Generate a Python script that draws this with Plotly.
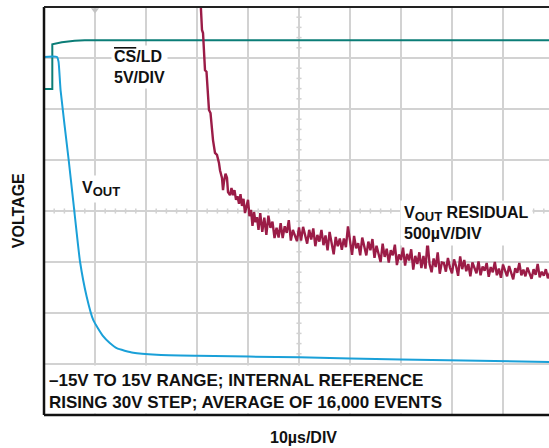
import plotly.graph_objects as go

# Scope graticule: 10 µs per horizontal division, 8 vertical divisions
T_PER_DIV = 10
N_XDIV = 10
N_YDIV = 8
T_VISIBLE = 99.02

# CS/LD logic trace (time in µs, level in divisions)
cs_t = [0, 1.63, 1.63, 3.5, 6.0, 8.0, 99.2]
cs_v = [6.39, 6.39, 7.27, 7.31, 7.34, 7.35, 7.35]

# VOUT output step (time in µs, level in divisions)
vout_t = [0, 2.55, 2.85, 3.25, 4.84, 5.75, 6.41, 7.06, 8.37, 9.67,
          11.63, 12.9, 14.25, 17.51, 22.1, 30.0, 50.0, 70.0, 99.2]
vout_v = [7.02, 7.02, 6.93, 6.37, 5.00, 4.18, 3.57, 3.01, 2.32, 1.86,
          1.54, 1.41, 1.31, 1.22, 1.18, 1.16, 1.13, 1.09, 1.04]

# VOUT residual: fast settling edge, then the sampled noisy tail
res_t_head = [30.59, 30.73, 30.98, 31.18, 31.37, 31.57, 31.86, 32.16, 32.35, 32.65,
              32.94, 33.14, 33.53, 33.92, 34.31, 34.51, 34.90, 35.10, 35.29, 35.59,
              35.88, 36.08, 36.47, 36.76, 37.06, 37.35, 37.65, 37.94, 38.24, 38.53,
              38.82, 39.12, 39.41, 39.71, 40.00, 40.29, 40.59, 40.88, 41.18, 41.47,
              41.76, 42.06]
res_v_head = [8.33, 8.00, 7.55, 7.49, 7.16, 6.76, 6.73, 6.27, 5.98, 5.92,
              5.53, 5.39, 5.14, 5.10, 4.94, 4.80, 4.65, 4.41, 4.57, 4.73,
              4.65, 4.37, 4.31, 4.45, 4.31, 4.41, 4.22, 4.29, 4.14, 4.33,
              4.10, 4.24, 3.96, 4.12, 4.22, 3.90, 4.02, 3.71, 3.98, 3.78,
              3.88, 3.63]
RES_T0 = 42.4
RES_DT = 0.4
res_v_tail = [
    3.96, 3.59, 3.87, 3.53, 3.91, 3.67, 3.79, 3.47, 3.67, 3.48,
    3.76, 3.47, 3.70, 3.57, 3.82, 3.42, 3.63, 3.52, 3.41, 3.68,
    3.42, 3.69, 3.50, 3.36, 3.63, 3.44, 3.66, 3.31, 3.53, 3.40,
    3.63, 3.33, 3.52, 3.23, 3.59, 3.39, 3.15, 3.49, 3.31, 3.46,
    3.24, 3.46, 3.29, 3.70, 3.40, 3.14, 3.51, 3.27, 3.37, 3.13,
    3.48, 3.28, 3.13, 3.40, 3.23, 3.45, 3.08, 3.32, 3.16, 3.00,
    3.36, 3.10, 3.26, 2.99, 3.23, 3.13, 3.34, 2.94, 3.15, 3.04,
    3.28, 2.93, 3.16, 3.03, 3.25, 2.85, 3.12, 2.96, 3.19, 2.88,
    3.12, 2.87, 3.41, 2.96, 2.80, 3.07, 2.90, 3.19, 2.77, 2.99,
    2.98, 2.81, 3.08, 2.89, 2.78, 3.05, 2.92, 2.73, 3.11, 2.86,
    3.04, 2.82, 2.96, 2.72, 2.99, 2.86, 2.78, 3.01, 2.74, 2.91,
    2.83, 2.98, 2.71, 2.90, 2.80, 3.00, 2.74, 2.87, 2.69, 2.95,
    2.84, 2.72, 2.92, 2.77, 2.66, 2.88, 2.79, 2.98, 2.74, 2.85,
    2.72, 2.89, 2.78, 2.67, 2.86, 2.75, 2.96, 2.70, 2.81, 2.73,
    2.86, 2.68, 2.79,
]

res_t = res_t_head + [RES_T0 + i * RES_DT for i in range(len(res_v_tail))]
res_v = res_v_head + res_v_tail

TEAL = "#0b7d77"
BLUE = "#1aa0d8"
CRIMSON = "#9b1c47"
GRID = "#d2d2d2"
INK = "#111111"
FONT = "Liberation Sans, Arial, Helvetica, sans-serif"

fig = go.Figure()
fig.add_trace(go.Scatter(x=cs_t, y=cs_v, mode="lines",
                         line=dict(color=TEAL, width=2)))
fig.add_trace(go.Scatter(x=vout_t, y=vout_v, mode="lines",
                         line=dict(color=BLUE, width=2, shape="spline", smoothing=0.5)))
fig.add_trace(go.Scatter(x=res_t, y=res_v, mode="lines",
                         line=dict(color=CRIMSON, width=2.4)))

# trigger-position marker on the top edge
fig.add_trace(go.Scatter(x=[T_PER_DIV], y=[7.94], mode="markers",
                         marker=dict(symbol="triangle-down", size=7, color="#c4c4c4"),
                         cliponaxis=False))

shapes = []
# minor ticks on the centre crosshair
cx = N_XDIV * T_PER_DIV / 2
cy = N_YDIV / 2
for k in range(1, N_XDIV * 5):
    t = k * T_PER_DIV / 5
    shapes.append(dict(type="line", xref="x", yref="y", x0=t, x1=t,
                       y0=cy - 0.05, y1=cy + 0.05, layer="between",
                       line=dict(color=GRID, width=1.5)))
for k in range(1, N_YDIV * 5):
    v = k / 5
    shapes.append(dict(type="line", xref="x", yref="y", x0=cx - 0.5, x1=cx + 0.5,
                       y0=v, y1=v, layer="between",
                       line=dict(color=GRID, width=1.5)))
# blank panel behind the test-condition note
shapes.append(dict(type="rect", xref="x", yref="y", x0=0.3, x1=78.8, y0=0.03, y1=0.97,
                   fillcolor="white", line=dict(width=0), layer="between"))
# frame: left, top, bottom
shapes.append(dict(type="line", xref="paper", yref="paper", x0=0, x1=0, y0=0, y1=1,
                   line=dict(color=INK, width=2.5), layer="above"))
shapes.append(dict(type="line", xref="paper", yref="paper", x0=0, x1=1, y0=1, y1=1,
                   line=dict(color="#222222", width=2), layer="above"))
shapes.append(dict(type="line", xref="paper", yref="paper", x0=0, x1=1, y0=0, y1=0,
                   line=dict(color=INK, width=2.5), layer="above"))

SUB = '<sub><span style="font-size:13px">OUT</span></sub>'
label_font = dict(family=FONT, size=16, color=INK)
annotations = [
    dict(x=13.04, y=6.83, xref="x", yref="y", xanchor="left", yanchor="middle",
         text='<b><span style="text-decoration:overline">CS</span>/LD<br>5V/DIV</b>',
         align="left", showarrow=False, font=label_font, bgcolor="white", borderpad=2),
    dict(x=6.76, y=4.43, xref="x", yref="y", xanchor="left", yanchor="middle",
         text="<b>V" + SUB + "</b>", align="left", showarrow=False,
         font=label_font, bgcolor="white", borderpad=3),
    dict(x=69.9, y=3.76, xref="x", yref="y", xanchor="left", yanchor="middle",
         text="<b>V" + SUB + " RESIDUAL<br>500µV/DIV</b>", align="left",
         showarrow=False, font=label_font, bgcolor="white", borderpad=3),
    dict(x=0.6, y=0.47, xref="x", yref="y", xanchor="left", yanchor="middle",
         text="<b>–15V TO 15V RANGE; INTERNAL REFERENCE<br>"
              "RISING 30V STEP; AVERAGE OF 16,000 EVENTS</b>",
         align="left", showarrow=False,
         font=dict(family=FONT, size=17, color=INK)),
    dict(x=0.513, y=-0.054, xref="paper", yref="paper", xanchor="center", yanchor="middle",
         text="<b>10µs/DIV</b>", showarrow=False, font=label_font),
    dict(x=-0.0515, y=0.502, xref="paper", yref="paper", xanchor="center", yanchor="middle",
         text="<b>VOLTAGE</b>", textangle=-90, showarrow=False, font=label_font),
]

fig.update_layout(
    width=549, height=448,
    margin=dict(l=44, r=0, t=7, b=33),
    paper_bgcolor="white", plot_bgcolor="white",
    showlegend=False,
    shapes=shapes,
    annotations=annotations,
    xaxis=dict(range=[0, T_VISIBLE], dtick=T_PER_DIV, tick0=0, showgrid=True,
               gridcolor=GRID, gridwidth=1.5, showticklabels=False, zeroline=False,
               ticks="", showline=False, fixedrange=True),
    yaxis=dict(range=[0, N_YDIV], dtick=1, tick0=0, showgrid=True,
               gridcolor=GRID, gridwidth=1.5, showticklabels=False, zeroline=False,
               ticks="", showline=False, fixedrange=True),
)

fig.write_html("out.html", config={"displayModeBar": False})
